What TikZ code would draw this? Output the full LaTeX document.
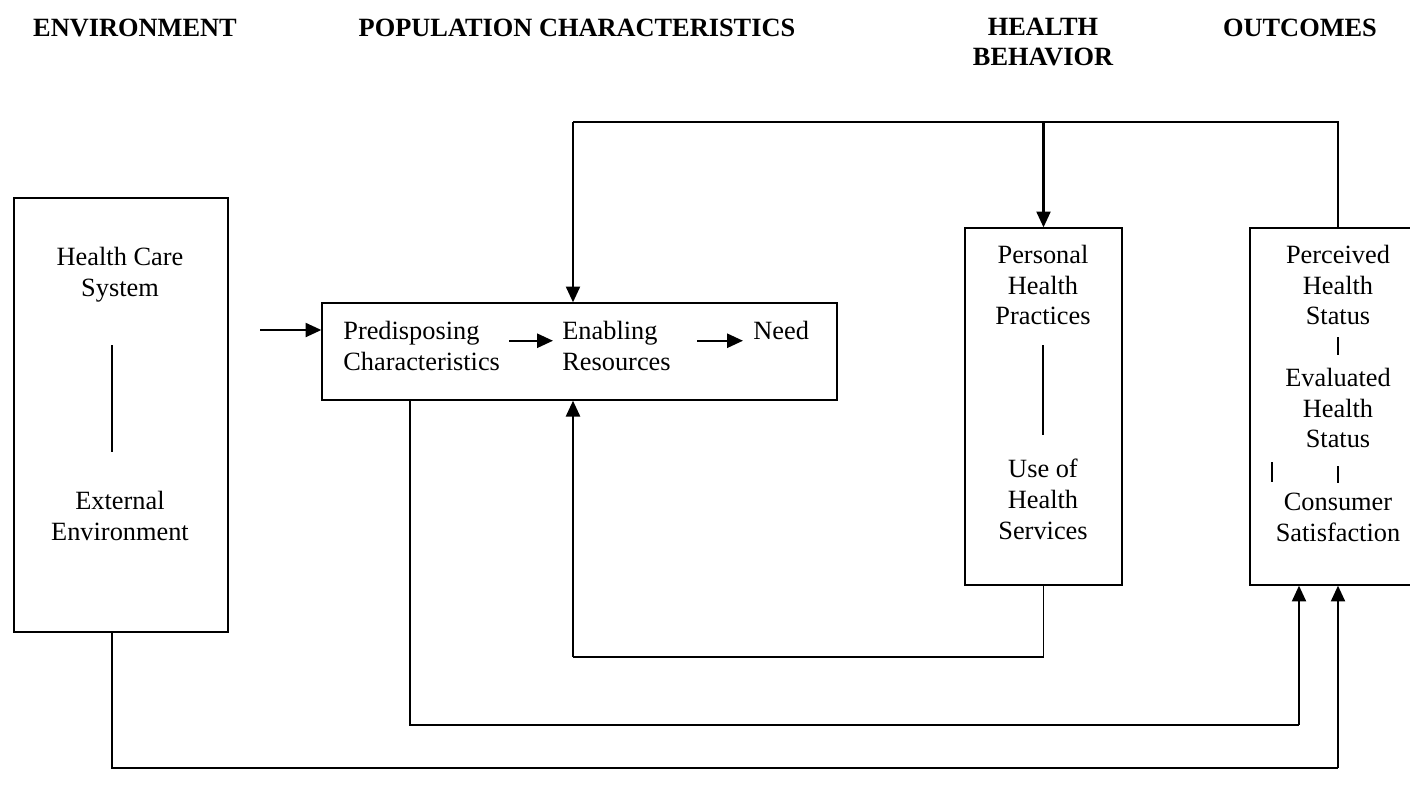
\documentclass[tikz,border=0pt]{standalone}
\usepackage{fontspec}
\setmainfont{Liberation Serif}
\usetikzlibrary{arrows.meta,positioning,calc}

\begin{document}
\begin{tikzpicture}[
  x=0.02cm, y=-0.02cm,
  box/.style={draw, line width=0.8pt, inner sep=0pt},
  txt/.style={font=\fontsize{15}{17.6}\selectfont, align=center, inner sep=0pt},
  head/.style={font=\fontsize{15}{17}\selectfont\bfseries, align=center, inner sep=0pt},
  flow/.style={line width=1.2pt, -{Triangle[length=9pt,width=8pt]}},
  link/.style={line width=0.8pt},
]
\useasboundingbox (0,0) rectangle (1410,796);

% Column headings
\node[head] (hEnv) at (135,28) {ENVIRONMENT};
\node[head] (hPop) at (577,28) {POPULATION CHARACTERISTICS};
\node[head] (hBeh) at (1043,42) {HEALTH\\BEHAVIOR};
\node[head] (hOut) at (1300,28) {OUTCOMES};

% Boxes
\node[box, minimum width=4.28cm, minimum height=8.68cm] (env) at (121,415) {};
\node[box, minimum width=10.3cm, minimum height=1.94cm] (pop) at (579.5,351.5) {};
\node[box, minimum width=3.14cm, minimum height=7.14cm] (beh) at (1043.5,406.5) {};
\node[box, minimum width=3.8cm, minimum height=7.14cm] (out) at (1345,406.5) {};

% Environment
\node[txt] (hcs) at (120,275) {Health Care\\System};
\node[txt] (ext) at (120,516) {External\\Environment};
\coordinate (e1) at (112,345);
\coordinate (e2) at (112,452);
\draw[link] (e1) -- (e2);

% Population characteristics
\node[txt, align=left, anchor=west] (pred) at (343,346) {Predisposing\\Characteristics};
\node[txt, align=left, anchor=west] (enab) at (562,346) {Enabling\\Resources};
\node[txt, anchor=west] (need) at (753,330) {Need};
\coordinate (inp) at (260,330);
\draw[flow] (inp) -- (inp -| pop.west);
\draw[flow, shorten <=0.18cm, shorten >=0.18cm] ([yshift=3pt]pred.east) -- ([yshift=3pt]enab.west);
\draw[flow, shorten <=0.18cm, shorten >=0.2cm] ([yshift=3pt]enab.east -| 688,0) -- ([yshift=3pt]enab.east -| need.west);

% Health behavior
\node[txt] (pers) at (1043,285) {Personal\\Health\\Practices};
\node[txt] (use) at (1043,499) {Use of\\Health\\Services};
\coordinate (b1) at (1043,345);
\coordinate (b2) at (1043,435);
\draw[link] (b1) -- (b2);

% Outcomes
\node[txt] (perc) at (1338,285) {Perceived\\Health\\Status};
\node[txt] (eval) at (1338,408) {Evaluated\\Health\\Status};
\node[txt] (cons) at (1338,517) {Consumer\\Satisfaction};
\coordinate (o1) at (1338,337);
\coordinate (o2) at (1338,355);
\coordinate (o3) at (1338,466);
\coordinate (o4) at (1338,483);
\coordinate (o5) at (1272,462);
\coordinate (o6) at (1272,482);
\draw[link] (o1) -- (o2);
\draw[link] (o3) -- (o4);
\draw[link] (o5) -- (o6);

% Feedback loops
\coordinate (top) at (1338,122);
\coordinate (topl) at (573,122);
\draw[link] (out.north -| top) -- (top) -- (topl);
\draw[flow] (top -| beh.north) -- (beh.north);
\draw[flow] (topl) -- (pop.north -| topl);
\draw[link] (beh.south) |- (573,657) coordinate (mid);
\draw[flow] (mid) -- (pop.south -| mid);
\draw[link] (pop.south -| 410,0) |- (1299,725) coordinate (low);
\draw[flow] (low) -- (out.south -| low);
\draw[link] (env.south -| 112,0) |- (1338,768) coordinate (base);
\draw[flow] (base) -- (out.south -| base);
\end{tikzpicture}
\end{document}
